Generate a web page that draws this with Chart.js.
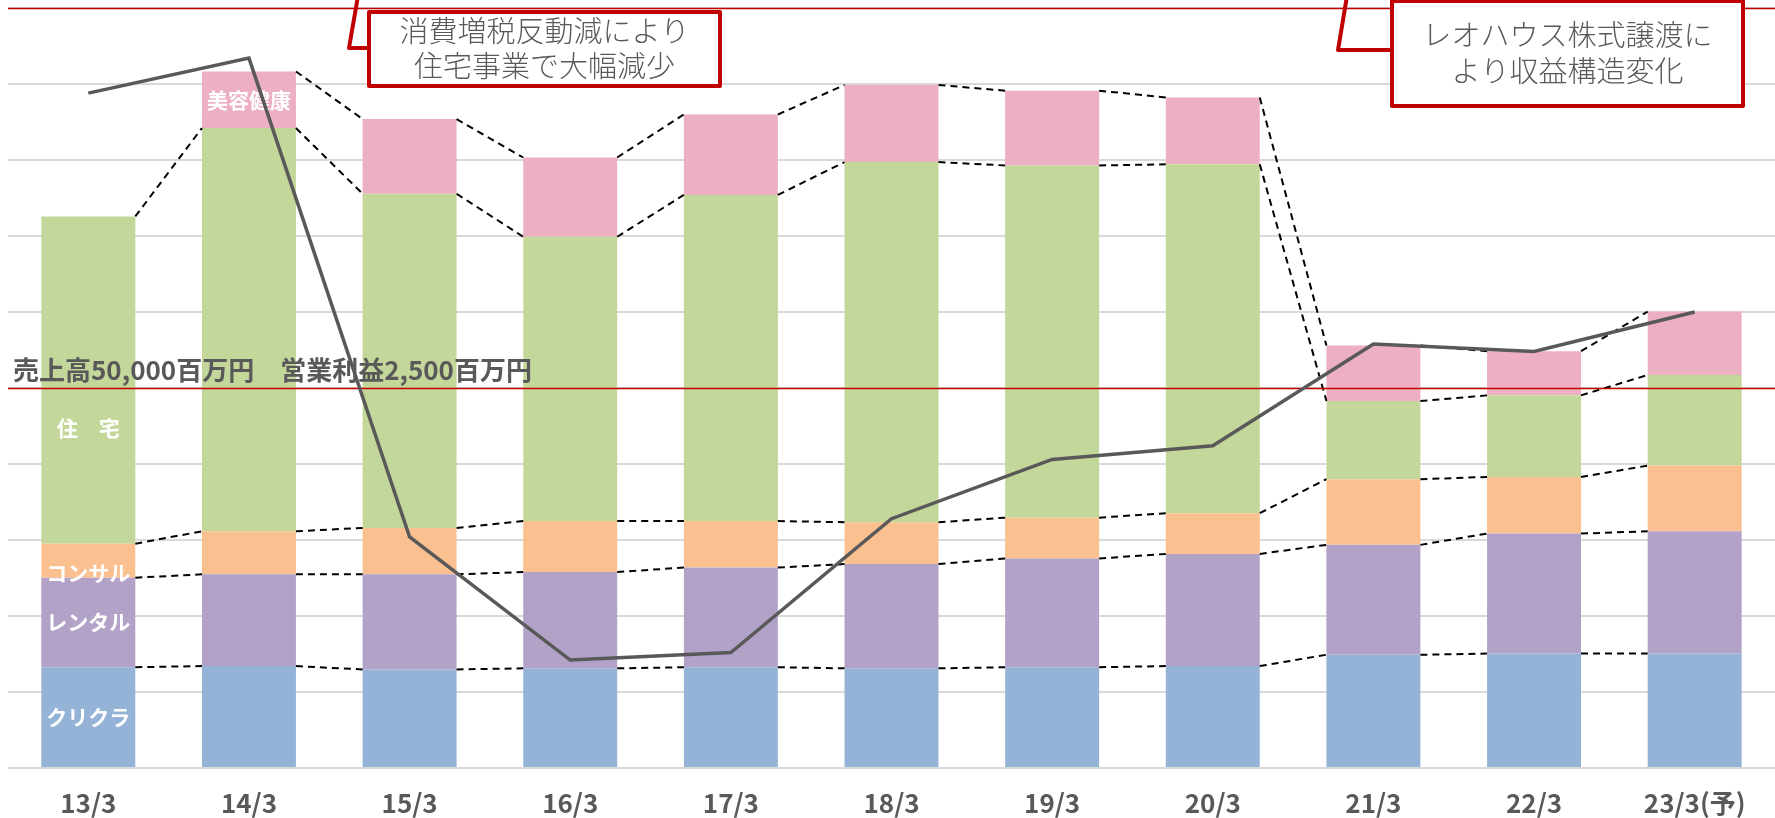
<!DOCTYPE html>
<html lang="ja">
<head>
<meta charset="UTF-8">
<title>売上高・営業利益推移</title>
<script src="https://cdn.jsdelivr.net/npm/chart.js"></script>
<style>
  html, body { margin: 0; padding: 0; background: #fff; }
</style>
</head>
<body>
<canvas id="salesChart" width="1775" height="818"></canvas>
<script>
// 決算期
const periods = ['13/3', '14/3', '15/3', '16/3', '17/3', '18/3', '19/3', '20/3', '21/3', '22/3', '23/3(予)'];

// セグメント別売上高（百万円）
const kurikura = [13260, 13410, 12970, 13110, 13260, 13110, 13260, 13410, 14900, 15050, 15050];
const rental   = [11780, 12070, 12510, 12670, 13120, 13720, 14310, 14760, 14460, 15800, 16100];
const consul   = [4470, 5670, 6110, 6710, 6110, 5510, 5370, 5360, 8640, 7450, 8640];
const jutaku   = [43070, 53050, 43970, 37410, 42920, 47390, 46340, 45900, 10290, 10730, 11920];
const biyou    = [null, 7450, 9830, 10430, 10580, 10140, 9840, 8800, 7300, 5810, 8350];

// 営業利益（百万円）
const profit = [4440, 4670, 1520, 710, 760, 1640, 2030, 2120, 2790, 2740, 3000];

const segmentNames = ['クリクラ', 'レンタル', 'コンサル', '住　宅', '美容健康'];
const refSales = [50000, 100000];
const refText = '売上高50,000百万円　営業利益2,500百万円';
const note1 = ['消費増税反動減により', '住宅事業で大幅減少'];
const note2 = ['レオハウス株式譲渡に', 'より収益構造変化'];

const FONT = '"Noto Sans CJK JP", "Noto Sans", sans-serif';
const segColors = ['#95B3D7', '#B3A2C7', '#FAC090', '#C4D79B', '#EDAFC2'];

const extras = {
  id: 'extras',
  beforeDatasetDraw(chart, args) {
    if (args.index !== 5) return;
    const ctx = chart.ctx;
    const ys = chart.scales.y;
    const area = chart.chartArea;
    ctx.save();

    // 系列線
    ctx.strokeStyle = '#000';
    ctx.lineWidth = 2;
    ctx.setLineDash([7, 5]);
    for (let d = 0; d < 5; d++) {
      const meta = chart.getDatasetMeta(d);
      const vals = chart.data.datasets[d].data;
      for (let i = 0; i < vals.length - 1; i++) {
        if (vals[i] == null || vals[i + 1] == null) continue;
        const a = meta.data[i], b = meta.data[i + 1];
        ctx.beginPath();
        ctx.moveTo(a.x + a.width / 2, a.y);
        ctx.lineTo(b.x - b.width / 2, b.y);
        ctx.stroke();
      }
    }
    ctx.setLineDash([]);

    // 基準線
    ctx.strokeStyle = '#C00000';
    ctx.lineWidth = 1.5;
    refSales.forEach(v => {
      const py = Math.round(ys.getPixelForValue(v)) + 0.5;
      ctx.beginPath();
      ctx.moveTo(area.left, py);
      ctx.lineTo(area.right, py);
      ctx.stroke();
    });
    ctx.fillStyle = '#595959';
    ctx.font = 'bold 26px ' + FONT;
    ctx.textAlign = 'left';
    ctx.textBaseline = 'alphabetic';
    ctx.fillText(refText, 13, ys.getPixelForValue(refSales[0]) - 8);

    // セグメント名
    ctx.fillStyle = '#fff';
    ctx.font = 'bold 21px ' + FONT;
    ctx.textAlign = 'center';
    ctx.textBaseline = 'middle';
    const shift = [0, 0, 12, 48, 0];
    segmentNames.forEach((name, d) => {
      const idx = d === 4 ? 1 : 0;
      const el = chart.getDatasetMeta(d).data[idx];
      ctx.fillText(name, el.x, (el.y + el.base) / 2 + shift[d]);
    });
    ctx.restore();
  },
  afterDraw(chart) {
    const ctx = chart.ctx;
    ctx.save();
    const callout = (box, corner, tip, lines, lineYs) => {
      ctx.strokeStyle = '#C00000';
      ctx.lineWidth = 4;
      ctx.lineJoin = 'round';
      ctx.beginPath();
      ctx.moveTo(box[0], corner[1]);
      ctx.lineTo(corner[0], corner[1]);
      ctx.lineTo(tip[0], tip[1]);
      ctx.stroke();
      ctx.fillStyle = '#fff';
      ctx.fillRect(box[0], box[1], box[2] - box[0], box[3] - box[1]);
      ctx.strokeRect(box[0], box[1], box[2] - box[0], box[3] - box[1]);
      ctx.fillStyle = '#595959';
      ctx.font = '300 29px ' + FONT;
      ctx.textAlign = 'center';
      ctx.textBaseline = 'middle';
      const cx = (box[0] + box[2]) / 2;
      lines.forEach((t, i) => ctx.fillText(t, cx, lineYs[i]));
    };
    callout([369, 12, 720, 86], [349, 48], [358, -4], note1, [31, 66]);
    callout([1392, 1, 1743, 106], [1338, 50], [1347, -4], note2, [35, 71]);
    ctx.restore();
  }
};

const barDs = (label, data, color) => ({
  type: 'bar',
  label: label,
  data: data,
  backgroundColor: color,
  borderWidth: 0,
  stack: 'sales',
  yAxisID: 'y',
  order: 1,
  barPercentage: 0.585,
  categoryPercentage: 1
});

new Chart(document.getElementById('salesChart'), {
  data: {
    labels: periods,
    datasets: [
      barDs(segmentNames[0], kurikura, segColors[0]),
      barDs(segmentNames[1], rental, segColors[1]),
      barDs(segmentNames[2], consul, segColors[2]),
      barDs(segmentNames[3], jutaku, segColors[3]),
      barDs(segmentNames[4], biyou, segColors[4]),
      {
        type: 'line',
        label: '営業利益',
        data: profit,
        borderColor: '#595959',
        borderWidth: 3.5,
        pointRadius: 0,
        tension: 0,
        yAxisID: 'y2',
        order: 0
      }
    ]
  },
  options: {
    responsive: false,
    animation: false,
    devicePixelRatio: 1,
    layout: { padding: { left: 8, top: 8, right: 0, bottom: 0 } },
    plugins: {
      legend: { display: false },
      tooltip: { enabled: false }
    },
    scales: {
      x: {
        stacked: true,
        grid: { display: false },
        border: { display: false },
        afterFit(scale) { scale.height = 50; },
        ticks: {
          color: '#595959',
          font: { family: FONT, size: 26, weight: 'bold' },
          padding: 12,
          maxRotation: 0,
          autoSkip: false
        }
      },
      y: {
        stacked: true,
        min: 0,
        max: 100000,
        ticks: { display: false, stepSize: 10000 },
        grid: { color: '#D9D9D9', lineWidth: 2, drawTicks: false },
        border: { display: false }
      },
      y2: {
        display: false,
        min: 0,
        max: 5000
      }
    }
  },
  plugins: [extras]
});
</script>
</body>
</html>
